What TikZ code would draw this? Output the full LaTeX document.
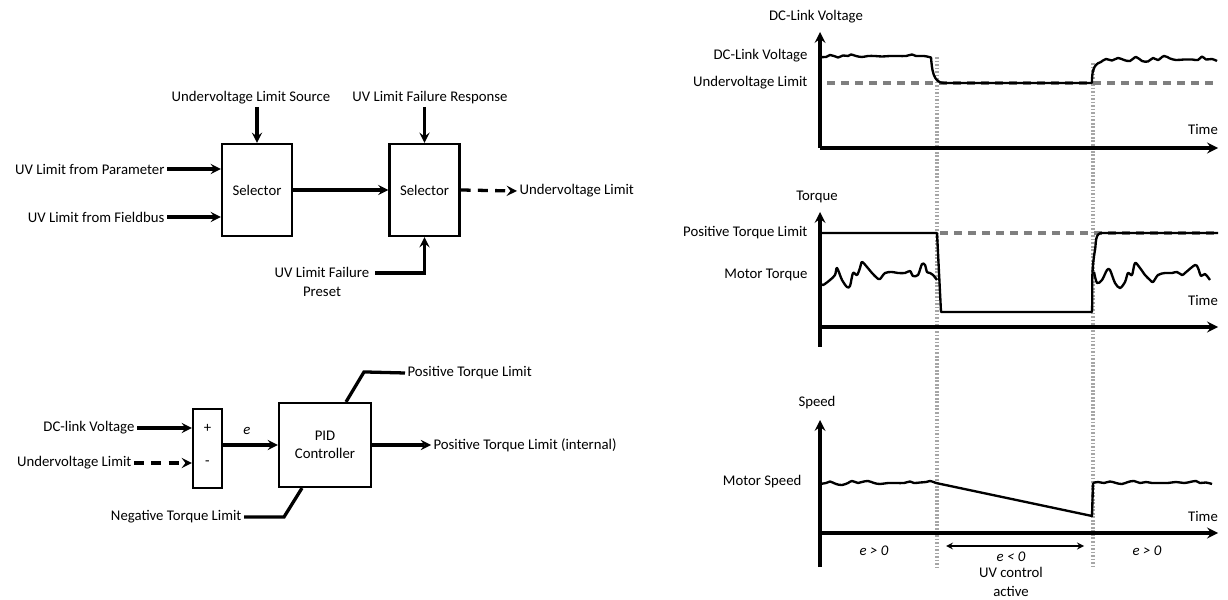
\documentclass[tikz,border=0pt]{standalone}
\usepackage{fontspec}
\setmainfont{Carlito}
\usepackage{tikz}
\usetikzlibrary{arrows,positioning,calc}
\usepackage{xcolor}
\definecolor{limgray}{HTML}{7F7F7F}
\definecolor{dotgray}{HTML}{A6A6A6}

\begin{document}
\begin{tikzpicture}[
    x=0.03cm, y=-0.03cm,
    every node/.style={font=\fontsize{12.6}{15.5}\selectfont},
    lbl/.style={inner sep=2pt},
    selbox/.style={rectangle, draw, line width=1.8pt, minimum width=2.1cm, minimum height=2.76cm},
    sumbox/.style={rectangle, draw, line width=1.8pt, minimum width=0.87cm, minimum height=2.37cm},
    pidbox/.style={rectangle, draw, line width=1.8pt, minimum width=2.76cm, minimum height=2.52cm, align=center},
    arrow/.style={line width=2.8pt, ->, >=stealth},
    link/.style={line width=2.8pt},
    axis/.style={line width=3pt, ->, >=stealth},
    curve/.style={line width=2pt, line join=round},
    limit/.style={line width=2.8pt, limgray, dash pattern=on 0.25cm off 0.17cm},
    marker/.style={line width=2.8pt, dotgray, dash pattern=on 1.5pt off 1.5pt}
]
\useasboundingbox (0,0) rectangle (1228,600);

% selector chain
\node (sel1) [selbox] at (257,190) {Selector};
\node (sel2) [selbox] at (424.5,190) {Selector};
\node (par) [lbl, anchor=east] at (167,169) {UV Limit from Parameter};
\node (fbus) [lbl, anchor=east] at (167,217) {UV Limit from Fieldbus};
\node (src) [lbl] at (251,98) {Undervoltage Limit Source};
\node (resp) [lbl] at (430,98) {UV Limit Failure Response};
\node (uvout) [lbl, anchor=west] at (517,191) {Undervoltage Limit};
\node (preset) [lbl, align=center] at (322,282) {UV Limit Failure\\Preset};

\draw[arrow] (par.east) -- (par.east -| sel1.west);
\draw[arrow] (fbus.east) -- (fbus.east -| sel1.west);
\draw[arrow] (src.south -| sel1.north) -- (sel1.north);
\draw[arrow] (resp.south -| sel2.north) -- (sel2.north);
\draw[arrow] (sel1) -- (sel2);
\draw[arrow, dash pattern=on 0.3cm off 0.22cm] (sel2.east) -- (uvout.west);
\draw[arrow] ([xshift=3pt,yshift=0.27cm]preset.east) -| (sel2.south);

% PID loop
\node (sum) [sumbox] at (207.5,448.5) {};
\node (plus) [lbl] at (207.5,428) {+};
\node (minus) [lbl] at (207.5,463) {-};
\node (pid) [pidbox] at (325,445) {PID\\Controller};
\node (dcv) [lbl, anchor=east] at (137,428) {DC-link Voltage};
\node (uvl) [lbl, anchor=east] at (134,463) {Undervoltage Limit};
\node (err) [lbl] at (247,431) {\textit{e}};
\node (ptlint) [lbl, anchor=west] at (431,445) {Positive Torque Limit (internal)};
\node (ptl) [lbl, anchor=west] at (405,373) {Positive Torque Limit};
\node (ntl) [lbl, anchor=east] at (244,517) {Negative Torque Limit};

\draw[arrow] (dcv.east) -- (dcv.east -| sum.west);
\draw[arrow, dash pattern=on 0.3cm off 0.22cm] (uvl.east) -- (uvl.east -| sum.west);
\draw[arrow] (pid.west -| sum.east) -- (pid.west);
\draw[arrow] (pid.east) -- (ptlint.west);
\draw[link] ([xshift=0.63cm]pid.north) -- ++(18,-30) -- (ptl.west);
\draw[link] (ntl.east) -- ++(40,0) -- ([xshift=-0.69cm]pid.south);

% time markers
\draw[marker] (937,57) -- (937,567);
\draw[marker] (1093,63) -- (1093,567);

% DC-link voltage chart
\node (vtitle) [lbl] at (816,17) {DC-Link Voltage};
\node (vdc) [lbl, anchor=east] at (810,56) {DC-Link Voltage};
\node (vuv) [lbl, anchor=east] at (810,83) {Undervoltage Limit};
\node (vtime) [lbl] at (1203,129) {Time};
\draw[limit] (827,83) -- (1218,83);
\draw[curve] plot[smooth, tension=0.6] coordinates {(820,57) (826,57) (830,55) (834,56) (838,57.5) (843,55.5) (848,56) (851,54.5) (856,56) (862,57) (868,56) (875,56) (882,56.5) (890,56) (898,56) (906,56) (912,54.5) (916,56) (924,56) (931,57.5)}
  to[out=-85,in=180] (944,83) -- (1092,83) to[out=90,in=195] (1101,62)
  plot[smooth, tension=0.6] coordinates {(1101,62) (1106,59) (1112,60.5) (1118,58) (1124,60) (1130,61) (1136,57) (1142,61) (1148,61.5) (1153,58) (1158,60) (1164,56) (1170,58.5) (1176,60) (1184,59.5) (1192,59.5) (1198,60) (1202,56.5) (1206,59.5) (1212,59) (1217,61)};
\draw[axis] (820,148) -- (820,32);
\draw[axis] (820,148) -- (1218,148);

% torque chart
\node (ttitle) [lbl] at (817,197) {Torque};
\node (tpos) [lbl, anchor=east] at (810,233) {Positive Torque Limit};
\node (tmot) [lbl, anchor=east] at (810,275) {Motor Torque};
\node (ttime) [lbl] at (1203,300) {Time};
\draw[limit] (940,233) -- (1218,233);
\draw[curve] (820,233) -- (937,233) -- (941,312) -- (1092,312) to[out=88,in=-100] (1095,250) to[out=80,in=180] (1102,233) -- (1218,233);
\draw[curve] plot[smooth, tension=0.5] coordinates {(820,283) (823,285) (830,280) (835,275) (837,268) (842,280) (847,287) (850,286) (853,273) (857,275) (860,268) (862,262) (867,267) (872,273) (877,278) (880,279) (885,273) (892,272) (898,273) (905,273) (910,271) (913,276) (918,275) (922,264) (925,265) (927,272) (930,273) (933,275) (937,280)};
\draw[curve] plot[smooth, tension=0.5] coordinates {(1094,272) (1097,283) (1102,280) (1107,270) (1110,270) (1115,283) (1120,288) (1125,282) (1128,273) (1132,275) (1135,263) (1140,268) (1145,275) (1150,280) (1153,282) (1158,275) (1165,273) (1172,273) (1177,272) (1182,275) (1185,273) (1195,265) (1198,268) (1201,276) (1205,274) (1210,280)};
\draw[axis] (820,347) -- (820,212);
\draw[axis] (822,327) -- (1218,327);

% speed chart
\node (stitle) [lbl] at (817,403) {Speed};
\node (smot) [lbl, anchor=east] at (804,482) {Motor Speed};
\node (stime) [lbl] at (1203,516) {Time};
\draw[curve] plot[smooth, tension=0.6] coordinates {(820,484) (826,483) (830,481.5) (836,484) (842,485) (848,483) (852,481) (858,483) (862,482) (868,481) (874,483) (880,484) (888,483) (896,483) (904,483) (910,481.5) (914,483) (920,482.5) (926,482) (930,481) (936,483)}
  -- (1092,516) -- (1093,483)
  plot[smooth, tension=0.6] coordinates {(1093,483) (1098,482) (1104,483) (1110,481.5) (1116,483) (1122,484) (1128,482) (1134,481) (1140,483) (1146,482) (1152,483) (1160,483) (1168,483) (1176,482) (1184,483) (1190,482) (1196,481) (1200,483) (1206,482.5) (1212,484)};
\draw[axis] (820,567) -- (820,420);
\draw[axis] (822,533) -- (1218,533);

% error sign regions
\coordinate (actl) at (946,546);
\coordinate (actr) at (1084,546);
\draw[line width=1.6pt, <->, >=stealth] (actl) -- (actr);
\node (epos1) [lbl] at (874,551) {\textit{e > 0}};
\node (eneg) [lbl] at (1011,557) {\textit{e < 0}};
\node (uvact) [inner sep=0.5pt, align=center, font=\fontsize{12.6}{16.5}\selectfont] at (1011,582) {UV control\\active};
\node (epos2) [lbl] at (1147,551) {\textit{e > 0}};

\end{tikzpicture}
\end{document}
